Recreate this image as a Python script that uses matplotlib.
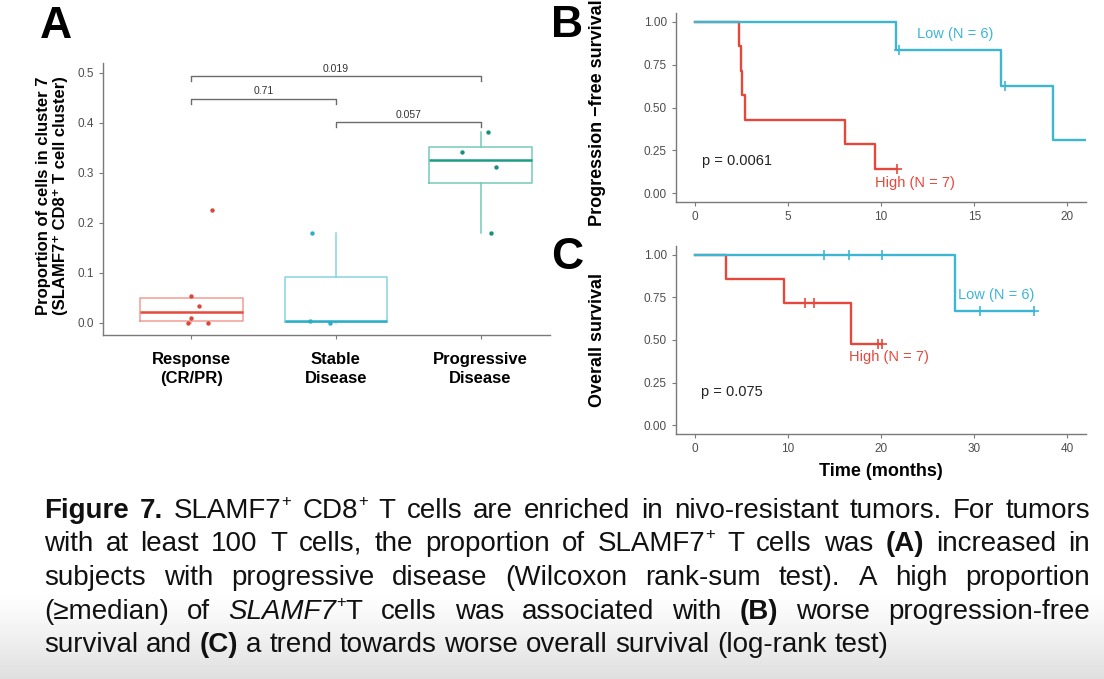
import re
import numpy as np
import matplotlib
matplotlib.use("Agg")
import matplotlib.pyplot as plt
import matplotlib.transforms as mtransforms

plt.rcParams['font.family'] = ['Liberation Sans', 'DejaVu Sans']

W, H = 1104, 679

# ---------------- data ----------------
groups = ["Response\n(CR/PR)", "Stable\nDisease", "Progressive\nDisease"]
resp_vals = [0.0, 0.0, 0.010, 0.033, 0.054, 0.225]
stable_vals = [0.0, 0.004, 0.180]
prog_vals = [0.180, 0.311, 0.341, 0.382]
# horizontal jitter of the points (category units)
resp_jit = [-0.025, 0.113, 0.0, 0.053, 0.0, 0.146]
stable_jit = [-0.04, -0.18, -0.166]
prog_jit = [0.07, 0.11, -0.13, 0.05]
pairs = [(1, 2), (2, 3), (1, 3)]
pair_p = ["0.71", "0.057", "0.019"]
pair_y = [0.448, 0.402, 0.494]

# progression-free survival (KM steps)
pfs_high_t = [0, 2.37, 2.47, 2.56, 2.71, 8.09, 9.70, 10.85]
pfs_high_s = [1.0, 0.857, 0.714, 0.571, 0.429, 0.286, 0.143, 0.143]
pfs_high_ct = [10.85]
pfs_high_cs = [0.143]
pfs_low_t = [0, 10.8, 16.44, 19.23, 21.0]
pfs_low_s = [1.0, 0.833, 0.625, 0.3125, 0.3125]
pfs_low_ct = [10.94, 16.68]
pfs_low_cs = [0.833, 0.625]

# overall survival (KM steps)
os_high_t = [0, 3.33, 9.6, 16.76, 20.1]
os_high_s = [1.0, 0.857, 0.714, 0.476, 0.476]
os_high_ct = [11.8, 12.8, 19.65, 20.1]
os_high_cs = [0.714, 0.714, 0.476, 0.476]
os_low_t = [0, 27.96, 36.4]
os_low_s = [1.0, 0.667, 0.667]
os_low_ct = [13.9, 16.56, 20.1, 30.6, 36.4]
os_low_cs = [1.0, 1.0, 1.0, 0.667, 0.667]

caption_lines = [
    "**Figure 7.** SLAMF7^+ CD8^+ T cells are enriched in nivo-resistant tumors. For tumors",
    "with at least 100 T cells, the proportion of SLAMF7^+ T cells was **(A)** increased in",
    "subjects with progressive disease (Wilcoxon rank-sum test). A high proportion",
    "(\u2265median) of _SLAMF7_^+T cells was associated with **(B)** worse progression-free",
    "survival and **(C)** a trend towards worse overall survival (log-rank test)",
]

RED = '#E5483B'
CYAN = '#3DB6D4'
box_edge = ['#F29C95', '#86D3E4', '#74CBB8']
box_med = ['#E34B3C', '#2AADC8', '#1E9C86']
pt_col = ['#D8473A', '#2AADC8', '#16907B']
GRAY_AX = '#7a7a7a'
TICK_C = '#4D4D4D'


def px_axes(l, t, r, b):
    return [l / W, 1 - b / H, (r - l) / W, (b - t) / H]


fig = plt.figure(figsize=(W / 100, H / 100), dpi=100)

# background gradient (slide screenshot)
bg = fig.add_axes([0, 0, 1, 1], zorder=-10)
rows = np.arange(H)
shade = np.where(rows < 590, 1.0, 1 - 0.13 * ((rows - 590) / (H - 590)) ** 1.2)
bg.imshow(shade[:, None], cmap='gray', vmin=0, vmax=1, aspect='auto',
          extent=[0, 1, 0, 1])
bg.axis('off')


def style_axes(ax):
    for s in ['top', 'right']:
        ax.spines[s].set_visible(False)
    for s in ['left', 'bottom']:
        ax.spines[s].set_color(GRAY_AX)
        ax.spines[s].set_linewidth(1.0)
    ax.tick_params(colors=GRAY_AX, labelcolor=TICK_C, labelsize=8.5,
                   length=3, width=0.8)
    ax.patch.set_alpha(0)


# ---------------- panel A ----------------
axA = fig.add_axes(px_axes(103, 63, 550, 335))
style_axes(axA)
data = [resp_vals, stable_vals, prog_vals]
jits = [resp_jit, stable_jit, prog_jit]
for i, vals in enumerate(data):
    pos = i + 1
    axA.boxplot([vals], positions=[pos], widths=0.71, whis=1.5,
                showfliers=False, showcaps=False, patch_artist=False,
                boxprops=dict(color=box_edge[i], linewidth=1.1),
                whiskerprops=dict(color=box_edge[i], linewidth=1.1),
                medianprops=dict(color=box_med[i], linewidth=1.8))
    axA.scatter(np.array(jits[i]) + pos, vals, s=10, color=pt_col[i],
                zorder=5, linewidths=0)

for (a, b), p, y in zip(pairs, pair_p, pair_y):
    axA.plot([a, a, b, b], [y - 0.011, y, y, y - 0.011], color='#6b6b6b', lw=1.0)
    axA.text((a + b) / 2, y + 0.004, p, ha='center', va='bottom',
             fontsize=7.5, color='#333333')

axA.set_xlim(0.39, 3.48)
axA.set_ylim(-0.025, 0.519)
axA.set_yticks([0, 0.1, 0.2, 0.3, 0.4, 0.5])
axA.set_yticklabels(["0.0", "0.1", "0.2", "0.3", "0.4", "0.5"])
axA.set_xticks([1, 2, 3])
axA.set_xticklabels(groups, fontsize=12, fontweight='bold', color='black',
                    linespacing=1.35)
axA.tick_params(axis='x', pad=9)
fig.text(52 / W, 1 - 196 / H,
         "Proportion of cells in cluster 7\n(SLAMF7\u207a CD8\u207a T cell cluster)",
         rotation=90, ha='center', va='center', fontsize=12, fontweight='bold',
         multialignment='center', linespacing=1.15)


# ---------------- panels B and C ----------------
def km_panel(rect, xmax, hi, lo, ptxt, ptxy, lo_lab, hi_lab, xticks):
    ax = fig.add_axes(rect)
    style_axes(ax)
    ax.step(hi[0], hi[1], where='post', color=RED, lw=1.7)
    ax.step(lo[0], lo[1], where='post', color=CYAN, lw=1.7)
    ax.plot(hi[2], hi[3], '+', color=RED, ms=7, mew=1.2)
    ax.plot(lo[2], lo[3], '+', color=CYAN, ms=7, mew=1.2)
    ax.set_xlim(-xmax * 0.05, xmax * 1.05)
    ax.set_ylim(-0.05, 1.05)
    ax.set_xticks(xticks)
    ax.set_yticks([0, 0.25, 0.5, 0.75, 1.0])
    ax.set_yticklabels(["0.00", "0.25", "0.50", "0.75", "1.00"])
    ax.text(ptxy[0], ptxy[1], ptxt, ha='left', va='center', fontsize=10.5,
            color='#222222')
    ax.text(lo_lab[0], lo_lab[1], "Low (N = 6)", ha='center', va='center',
            fontsize=10.5, color=CYAN)
    ax.text(hi_lab[0], hi_lab[1], "High (N = 7)", ha='center', va='center',
            fontsize=10.5, color=RED)
    return ax


axB = km_panel(px_axes(676, 13, 1086, 202), 20,
               (pfs_high_t, pfs_high_s, pfs_high_ct, pfs_high_cs),
               (pfs_low_t, pfs_low_s, pfs_low_ct, pfs_low_cs),
               "p = 0.0061", (0.42, 0.187), (14.0, 0.926), (11.8, 0.06),
               [0, 5, 10, 15, 20])
axC = km_panel(px_axes(676, 246, 1086, 434), 40,
               (os_high_t, os_high_s, os_high_ct, os_high_cs),
               (os_low_t, os_low_s, os_low_ct, os_low_cs),
               "p = 0.075", (0.7, 0.193), (32.4, 0.764), (20.9, 0.40),
               [0, 10, 20, 30, 40])
axC.set_xlabel("Time (months)", fontsize=13, fontweight='bold', labelpad=6)

fig.text(598 / W, 1 - 113 / H, "Progression \u2212free survival", rotation=90,
         ha='center', va='center', fontsize=13, fontweight='bold')
fig.text(598 / W, 1 - 340 / H, "Overall survival", rotation=90,
         ha='center', va='center', fontsize=13, fontweight='bold')

# panel letters
for lab, x, y in [("A", 40, 6), ("B", 551, 5), ("C", 551, 237)]:
    fig.text(x / W, 1 - y / H, lab, ha='left', va='top', fontsize=32,
             fontweight='bold')


# ---------------- caption (justified) ----------------
def parse_runs(line):
    runs = []
    for m in re.finditer(r'\*\*(.+?)\*\*|_(.+?)_|(\^\+)|([^*_^]+)', line):
        if m.group(1):
            runs.append((m.group(1), 'b'))
        elif m.group(2):
            runs.append((m.group(2), 'i'))
        elif m.group(3):
            runs.append(('+', 's'))
        else:
            runs.append((m.group(4), 'n'))
    words = [[]]
    for txt, st in runs:
        parts = txt.split(' ')
        for k, part in enumerate(parts):
            if k > 0:
                words.append([])
            if part:
                words[-1].append((part, st))
    return [w for w in words if w]


CAP_SIZE = 20
ident = mtransforms.IdentityTransform()
fig.canvas.draw()
renderer = fig.canvas.get_renderer()


def make_run(txt, st):
    kw = dict(fontsize=CAP_SIZE, color='#111111')
    if st == 'b':
        kw['fontweight'] = 'bold'
    if st == 'i':
        kw['fontstyle'] = 'italic'
    if st == 's':
        kw['fontsize'] = CAP_SIZE * 0.6
    t = fig.text(0, 0, txt, transform=ident, ha='left', va='baseline', **kw)
    return t, t.get_window_extent(renderer).width


probe, wa = make_run("a", 'n')
probe2, waa = make_run("a a", 'n')
space_w = waa - 2 * wa
probe.remove()
probe2.remove()

x_left, x_right = 44, 1090
baselines = [518, 551.5, 585, 618.5, 652]
sup_rise = CAP_SIZE * 100 / 72 * 0.42
for li, line in enumerate(caption_lines):
    words = parse_runs(line)
    built = []
    for w in words:
        pieces = [(make_run(txt, st), st) for txt, st in w]
        built.append(pieces)
    widths = [sum(p[0][1] for p in pieces) for pieces in built]
    justify = li < len(caption_lines) - 1
    if justify:
        gap = (x_right - x_left - sum(widths)) / (len(built) - 1)
    else:
        gap = space_w
    x = x_left
    yb = round(H - baselines[li])
    for pieces, wd in zip(built, widths):
        cx = x
        for (t, tw), st in pieces:
            t.set_position((cx, yb + (sup_rise if st == 's' else 0)))
            cx += tw
        x += wd + gap

fig.savefig("out.png", dpi=100)
